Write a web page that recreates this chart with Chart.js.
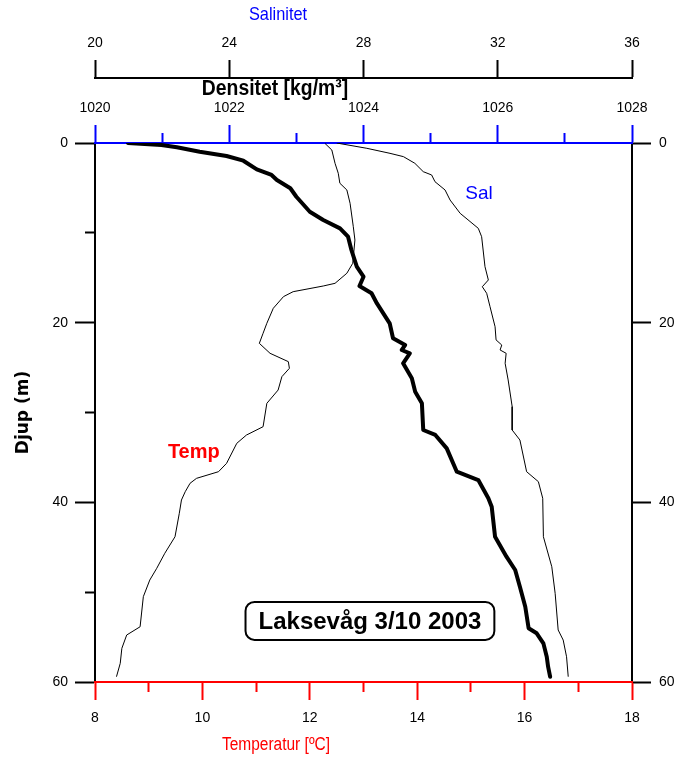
<!DOCTYPE html>
<html>
<head>
<meta charset="utf-8">
<title>Laksevåg 3/10 2003</title>
<script src="https://cdn.jsdelivr.net/npm/chart.js@4.4.1/dist/chart.umd.min.js"></script>
<style>
  html, body { margin: 0; padding: 0; background: #fff; }
  #wrap { width: 679px; height: 760px; }
</style>
</head>
<body>
<div id="wrap"><canvas id="profileChart"></canvas></div>
<script>
// ======================== DATA ========================
// Temperatur (°C) mot djup (m)
const tempDepth = [0.03, 0.78, 2.26, 3.37, 4.48, 5.23, 6.71, 9.32, 10.8, 13.39, 14.5, 15.62, 15.92, 16.55, 17.1,
  18.4, 20.07, 21.18, 22.3, 23.41, 24.34, 25.08, 26.01, 27.5, 28.98, 31.58, 32.51, 33.43, 35.66, 36.59, 37.33,
  37.88, 38.82, 39.74, 41.22, 43.83, 45.67, 47.34, 48.65, 50.5, 53.85, 54.77, 56.25, 57.92, 59.41];
const tempValue = [12.28, 12.41, 12.47, 12.53, 12.56, 12.69, 12.75, 12.81, 12.84, 12.80, 12.69, 12.47, 12.25, 11.69, 11.51,
  11.32, 11.20, 11.13, 11.06, 11.26, 11.60, 11.62, 11.48, 11.41, 11.20, 11.13, 10.82, 10.64, 10.45, 10.30, 9.89,
  9.77, 9.68, 9.61, 9.57, 9.49, 9.30, 9.15, 9.02, 8.90, 8.84, 8.59, 8.50, 8.47, 8.40];

// Salinitet mot djup (m)
const salDepth = [0, 0.59, 1.15, 1.52, 2.26, 3.19, 3.56, 4.31, 5.23, 6.35, 7.83, 9.5, 10.43, 13.77, 15.25, 16.0,
  16.73, 18.22, 20.45, 21.92, 22.49, 23.04, 23.41, 24.52, 26.38, 29.35, 31.95, 33.06, 36.59, 37.7, 39.55, 43.83,
  47.17, 50.13, 54.21, 55.33, 57.19, 59.41];
const salValue = [27.20, 28.10, 28.79, 29.19, 29.53, 29.78, 30.03, 30.13, 30.43, 30.58, 30.88, 31.42, 31.52, 31.62, 31.72, 31.54,
  31.67, 31.77, 31.92, 31.95, 32.12, 32.07, 32.25, 32.22, 32.31, 32.43, 32.43, 32.66, 32.86, 33.21, 33.34, 33.36,
  33.61, 33.71, 33.80, 33.95, 34.05, 34.10];

// Densitet (kg/m3) mot djup (m)
const densDepth = [0, 0.22, 0.48, 0.97, 1.45, 1.97, 2.93, 3.56, 4.12, 5.04, 5.98, 7.65, 8.57, 9.5, 10.43, 11.91,
  13.77, 14.88, 15.92, 16.73, 17.86, 20.07, 21.74, 22.49, 23.04, 23.41, 24.52, 26.19, 27.68, 28.98, 31.95, 32.5,
  33.99, 36.59, 37.52, 39.55, 40.49, 43.83, 46.05, 47.53, 49.39, 51.62, 54.02, 54.58, 55.7, 57.19, 58.3, 59.41];
const densValue = [1020.49, 1020.99, 1021.22, 1021.56, 1021.96, 1022.21, 1022.41, 1022.63, 1022.71, 1022.91, 1023.00, 1023.20, 1023.40, 1023.65, 1023.77, 1023.82,
  1023.90, 1024.00, 1023.94, 1024.12, 1024.20, 1024.39, 1024.44, 1024.62, 1024.57, 1024.69, 1024.59, 1024.72, 1024.77, 1024.87, 1024.89, 1025.07,
  1025.24, 1025.39, 1025.71, 1025.86, 1025.91, 1025.96, 1026.13, 1026.26, 1026.33, 1026.41, 1026.46, 1026.58, 1026.68, 1026.73, 1026.75, 1026.78];

// Aksegrenser
const depthRange = [0, 60];
const tempRange = [8, 18];
const salRange = [20, 36];
const densRange = [1020, 1028];

// ======================== STIL ========================
const BLUE = '#0000ff';
const RED = '#ff0000';
const BLACK = '#000000';
const PLAIN = "'Liberation Sans', Arial, sans-serif";
const TICK_FONT = { family: PLAIN, size: 14 };

function toPoints(values, depths) {
  return values.map((v, i) => ({ x: v, y: depths[i] }));
}

// kort tick for mellomverdier (dash-triks, tick tegnes fra ytterkant mot akse)
function minorFromOuter(isMajor, minorLen, tickLen) {
  return {
    dash: ctx => isMajor(ctx.tick.value) ? [] : [minorLen + 3, tickLen - minorLen],
    offset: ctx => isMajor(ctx.tick.value) ? 0 : minorLen + 3
  };
}

const densMinor = minorFromOuter(v => Math.round(v) % 2 === 0, 10, 18);
const depthMinor = minorFromOuter(v => Math.round(v) % 20 === 0, 10, 20);

// ======================== TEKSTER ========================
function roundedBox(ctx, x, y, w, h, r) {
  ctx.beginPath();
  ctx.moveTo(x + r, y);
  ctx.arcTo(x + w, y, x + w, y + h, r);
  ctx.arcTo(x + w, y + h, x, y + h, r);
  ctx.arcTo(x, y + h, x, y, r);
  ctx.arcTo(x, y, x + w, y, r);
  ctx.closePath();
}

// smal tekst (originalen bruker en smal Arial-variant)
function narrowText(ctx, text, x, y, squeeze) {
  ctx.save();
  ctx.translate(x, y);
  ctx.scale(squeeze, 1);
  ctx.fillText(text, 0, 0);
  ctx.restore();
}

const textPlugin = {
  id: 'profileTexts',
  afterDraw(chart) {
    const { ctx, scales } = chart;
    ctx.save();
    ctx.textAlign = 'center';
    ctx.textBaseline = 'middle';

    ctx.fillStyle = BLUE;
    ctx.font = `19px ${PLAIN}`;
    narrowText(ctx, 'Salinitet', 278, 15, 0.86);

    ctx.fillStyle = BLACK;
    ctx.font = `bold 22px ${PLAIN}`;
    narrowText(ctx, 'Densitet [kg/m³]', 275, 89, 0.88);

    ctx.fillStyle = RED;
    ctx.font = `18px ${PLAIN}`;
    narrowText(ctx, 'Temperatur [ºC]', 276, 745, 0.86);

    // kurveetiketter
    ctx.fillStyle = RED;
    ctx.font = `bold 20px ${PLAIN}`;
    ctx.fillText('Temp', scales.xT.getPixelForValue(9.84), scales.y.getPixelForValue(34.5));

    ctx.fillStyle = BLUE;
    ctx.font = `19px ${PLAIN}`;
    ctx.fillText('Sal', scales.xS.getPixelForValue(31.44), scales.y.getPixelForValue(5.7));

    // stasjon / dato
    const bx = scales.xT.getPixelForValue(13.12);
    const by = scales.y.getPixelForValue(53.2);
    ctx.font = `bold 24px ${PLAIN}`;
    const label = 'Laksevåg 3/10 2003';
    const w = ctx.measureText(label).width + 26;
    const h = 38;
    ctx.fillStyle = '#ffffff';
    roundedBox(ctx, bx - w / 2, by - h / 2, w, h, 9);
    ctx.fill();
    ctx.lineWidth = 2;
    ctx.strokeStyle = BLACK;
    ctx.stroke();
    ctx.fillStyle = BLACK;
    ctx.fillText(label, bx, by + 1);
    ctx.restore();
  }
};

// ======================== CHART ========================
const ctx = document.getElementById('profileChart').getContext('2d');
new Chart(ctx, {
  type: 'scatter',
  data: {
    datasets: [
      {
        label: 'Temp', data: toPoints(tempValue, tempDepth), xAxisID: 'xT', yAxisID: 'y',
        showLine: true, borderColor: BLACK, borderWidth: 1, pointRadius: 0, tension: 0
      },
      {
        label: 'Sal', data: toPoints(salValue, salDepth), xAxisID: 'xS', yAxisID: 'y',
        showLine: true, borderColor: BLACK, borderWidth: 1, pointRadius: 0, tension: 0
      },
      {
        label: 'Densitet', data: toPoints(densValue, densDepth), xAxisID: 'xD', yAxisID: 'y',
        showLine: true, borderColor: BLACK, borderWidth: 4, pointRadius: 0, tension: 0,
        borderJoinStyle: 'round', borderCapStyle: 'round'
      }
    ]
  },
  options: {
    responsive: true,
    maintainAspectRatio: false,
    animation: false,
    layout: { padding: 0 },
    plugins: { legend: { display: false }, tooltip: { enabled: false }, title: { display: false } },
    scales: {
      y: {
        type: 'linear', position: 'left', reverse: true,
        min: depthRange[0], max: depthRange[1],
        title: { display: true, text: 'Djup (m)', color: BLACK, font: { family: "'DejaVu Sans', sans-serif", size: 17, weight: 'bold' }, padding: { top: 13, bottom: 0 } },
        ticks: { stepSize: 10, color: BLACK, font: TICK_FONT, padding: 7, callback: v => v % 20 === 0 ? v : '' },
        grid: { drawOnChartArea: false, tickLength: 20, tickWidth: 2, tickColor: BLACK, tickBorderDash: depthMinor.dash, tickBorderDashOffset: depthMinor.offset },
        border: { color: BLACK, width: 2 },
        afterFit: s => { s.width = 95; }
      },
      yR: {
        type: 'linear', position: 'right', reverse: true,
        min: depthRange[0], max: depthRange[1],
        ticks: { stepSize: 20, color: BLACK, font: TICK_FONT, padding: 8 },
        grid: { drawOnChartArea: false, tickLength: 19, tickWidth: 2, tickColor: BLACK },
        border: { color: BLACK, width: 2 },
        afterFit: s => { s.width = 47; }
      },
      xT: {
        type: 'linear', position: 'bottom',
        min: tempRange[0], max: tempRange[1],
        ticks: { stepSize: 1, color: BLACK, font: TICK_FONT, padding: 10, maxRotation: 0, autoSkip: false, callback: v => v % 2 === 0 ? v : '' },
        grid: {
          drawOnChartArea: false, tickLength: 18, tickWidth: 2, tickColor: RED,
          tickBorderDash: c => c.tick.value % 2 === 0 ? [] : [9, 100]
        },
        border: { color: RED, width: 2 },
        afterFit: s => { s.height = 78; }
      },
      xD: {
        type: 'linear', position: 'top', weight: 1,
        min: densRange[0], max: densRange[1],
        ticks: { stepSize: 1, color: BLACK, font: TICK_FONT, padding: 8, maxRotation: 0, autoSkip: false, callback: v => v % 2 === 0 ? v : '' },
        grid: {
          drawOnChartArea: false, tickLength: 18, tickWidth: 2, tickColor: BLUE,
          tickBorderDash: densMinor.dash, tickBorderDashOffset: densMinor.offset
        },
        border: { color: BLUE, width: 2 },
        afterFit: s => { s.height = 65; }
      },
      xS: {
        type: 'linear', position: 'top', weight: 2,
        min: salRange[0], max: salRange[1],
        ticks: { stepSize: 4, color: BLACK, font: TICK_FONT, padding: 8, maxRotation: 0, autoSkip: false },
        grid: { drawOnChartArea: false, tickLength: 18, tickWidth: 2, tickColor: BLACK },
        border: { color: BLACK, width: 2 },
        afterFit: s => { s.height = 78; }
      }
    }
  },
  plugins: [textPlugin]
});
</script>
</body>
</html>
